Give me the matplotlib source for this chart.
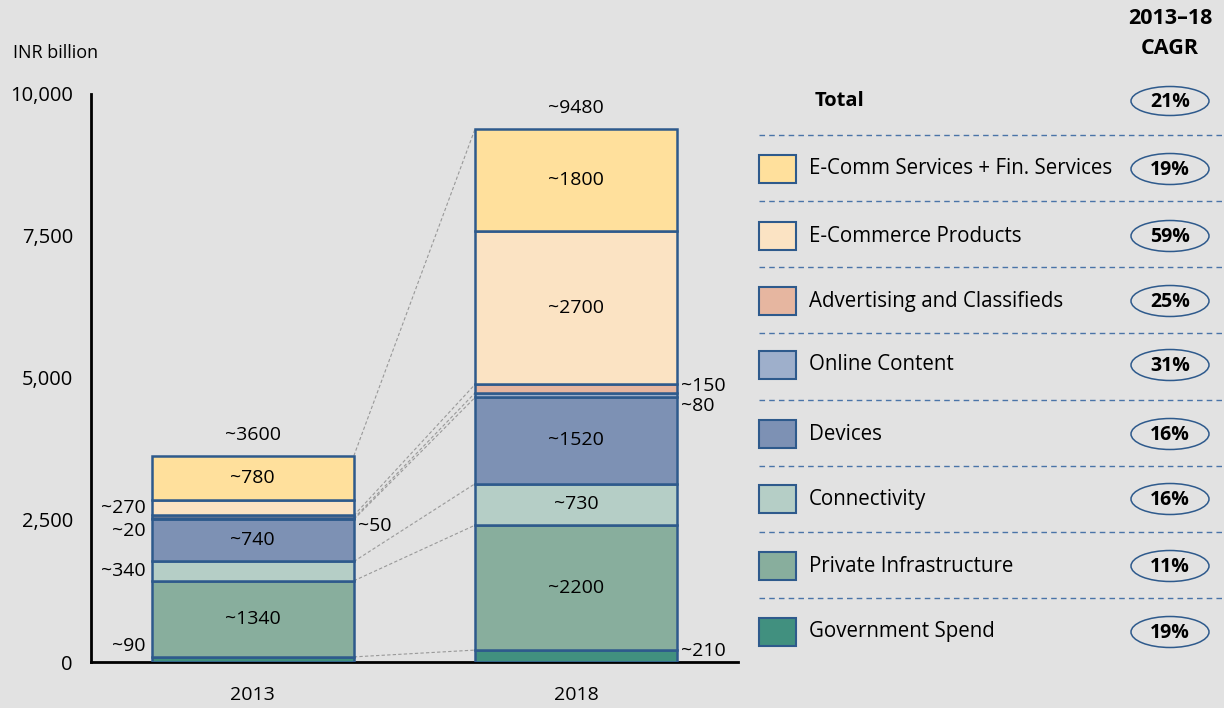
import matplotlib
matplotlib.use("Agg")
import matplotlib.pyplot as plt
from matplotlib.patches import Ellipse, Rectangle

plt.rcParams['font.family'] = ['Open Sans', 'DejaVu Sans']

# data
years = ['2013', '2018']
segments = ['Government Spend', 'Private Infrastructure', 'Connectivity', 'Devices',
            'Online Content', 'Advertising and Classifieds', 'E-Commerce Products',
            'E-Comm Services + Fin. Services']
values_2013 = [90, 1340, 340, 740, 20, 50, 270, 780]
values_2018 = [210, 2200, 730, 1520, 80, 150, 2700, 1800]
totals = ['~3600', '~9480']
cagr = ['19%', '11%', '16%', '16%', '31%', '25%', '59%', '19%']
cagr_total = '21%'
yticks = [0, 2500, 5000, 7500, 10000]

colors = ['#41907F', '#88AE9D', '#B5CEC6', '#7D91B4', '#9EAFCB', '#E6B6A0', '#FBE3C3', '#FFE09C']
edge = '#2E5A8C'
bg = '#E2E2E2'

# where each value label goes: in / left / right, plus vertical nudge in pixels
place = [['left', 'in', 'left', 'in', 'left', 'right', 'left', 'in'],
         ['right', 'in', 'in', 'in', 'right', 'right', 'in', 'in']]
nudge = [[13, 0, 0, 0, -12, -9, 0, 0],
         [5, 0, 0, 0, -11, 3, 0, 0]]
# segments whose tops are joined between the bars
joined = [0, 1, 2, 3, 4, 5, 7]

W, H = 1224, 708
fig = plt.figure(figsize=(W / 100, H / 100), dpi=100, facecolor=bg)
ax = fig.add_axes([91 / W, 46 / H, 647 / W, 568 / H])
ax.set_facecolor(bg)

fs = 14
width = 0.625
xs = [0, 1]
data = [values_2013, values_2018]
tops = []
for i, vals in enumerate(data):
    bottom = 0
    t = []
    for j, v in enumerate(vals):
        ax.bar(xs[i], v, width, bottom=bottom, color=colors[j], edgecolor=edge, linewidth=1.8, zorder=3)
        mid = bottom + v / 2
        lab = '~' + str(v)
        p = place[i][j]
        if p == 'in':
            ax.annotate(lab, (xs[i], mid), ha='center', va='center', fontsize=fs, zorder=4)
        elif p == 'left':
            ax.annotate(lab, (xs[i] - width / 2, mid), xytext=(-6, nudge[i][j]),
                        textcoords='offset pixels', ha='right', va='center', fontsize=fs)
        else:
            ax.annotate(lab, (xs[i] + width / 2, mid), xytext=(4, nudge[i][j]),
                        textcoords='offset pixels', ha='left', va='center', fontsize=fs)
        bottom += v
        t.append(bottom)
    tops.append(t)
    ax.annotate(totals[i], (xs[i], bottom), xytext=(0, 21), textcoords='offset pixels',
                ha='center', va='center', fontsize=fs)

# connector lines
for j in joined:
    ax.plot([xs[0] + width / 2, xs[1] - width / 2], [tops[0][j], tops[1][j]],
            color='#999999', linestyle=(0, (3, 2)), linewidth=0.8, zorder=2)

ax.set_xlim(-0.5, 1.5)
ax.set_ylim(0, 10000)
ax.set_xticks(xs)
ax.set_xticklabels(years, fontsize=14)
ax.set_yticks(yticks)
ax.set_yticklabels(['{:,}'.format(v) for v in yticks], fontsize=14.5)
ax.tick_params(length=0)
ax.tick_params(axis='y', pad=13)
ax.tick_params(axis='x', pad=17)
for s in ['top', 'right']:
    ax.spines[s].set_visible(False)
for s in ['left', 'bottom']:
    ax.spines[s].set_linewidth(2)
    ax.spines[s].set_color('black')

# overlay in pixel units for the right-hand key
lax = fig.add_axes([0, 0, 1, 1])
lax.set_xlim(0, W)
lax.set_ylim(H, 0)
lax.axis('off')

lax.text(13, 53, 'INR billion', fontsize=13, va='center', ha='left')
lax.text(1170, 18, '2013–18', fontsize=15.5, fontweight='bold', ha='center', va='center')
lax.text(1170, 48, 'CAGR', fontsize=15.5, fontweight='bold', ha='center', va='center')

row_y = [632, 566, 499, 434, 365, 301, 236, 169]
lax.text(815, 101, 'Total', fontsize=14.5, fontweight='bold', ha='left', va='center')
lax.add_patch(Ellipse((1170, 101), 78, 29, fill=False, edgecolor=edge, linewidth=1.1))
lax.text(1170, 102, cagr_total, fontsize=14, fontweight='bold', ha='center', va='center')

for j, y in enumerate(row_y):
    lax.add_patch(Rectangle((759, y - 14), 37, 28, facecolor=colors[j], edgecolor=edge, linewidth=1.5))
    lax.text(809, y, segments[j], fontsize=14.8, ha='left', va='center')
    lax.add_patch(Ellipse((1170, y), 78, 31, fill=False, edgecolor=edge, linewidth=1.1))
    lax.text(1170, y + 1, cagr[j], fontsize=14, fontweight='bold', ha='center', va='center')

for y in [135, 201, 267, 333, 400, 466, 532, 598]:
    lax.plot([759, W], [y, y], color='#4A74A8', linestyle=(0, (4, 3)), linewidth=1.0)

fig.savefig('out.png', dpi=100, facecolor=bg)
